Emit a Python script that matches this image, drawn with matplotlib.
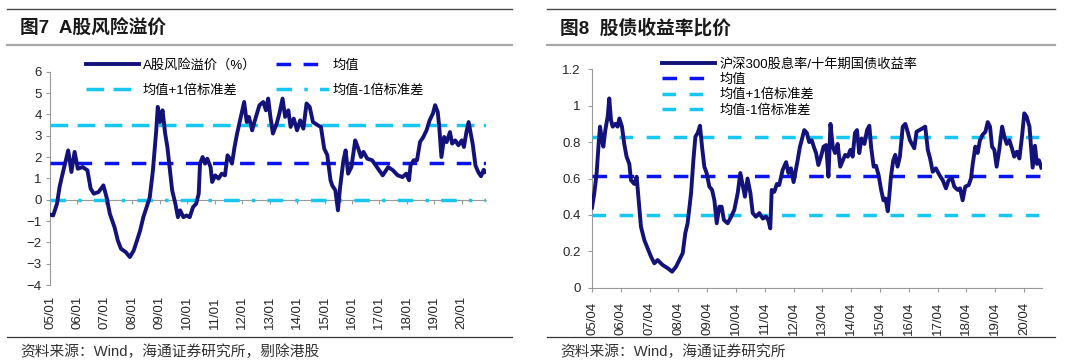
import matplotlib.pyplot as plt
from matplotlib.lines import Line2D
import numpy as np

plt.rcParams['font.family'] = ['Liberation Sans', 'Noto Sans CJK SC', 'DejaVu Sans']

# ---- data ----
# fig 7: A-share risk premium (%), x in years since 2005-01
risk_t = [0.0, 0.115, 0.255, 0.348, 0.43, 0.547, 0.663, 0.78, 0.896, 1.013, 1.188, 1.363,
          1.48, 1.596, 1.77, 1.945, 2.06, 2.18, 2.35, 2.47, 2.586, 2.76, 2.91, 3.05,
          3.17, 3.285, 3.40, 3.52, 3.635, 3.75, 3.87, 3.926, 4.008, 4.10, 4.195, 4.276,
          4.358, 4.45, 4.567, 4.66, 4.74, 4.86, 4.976, 5.09, 5.21, 5.325, 5.418, 5.465,
          5.56, 5.65, 5.73, 5.85, 5.907, 6.02, 6.14, 6.257, 6.374, 6.467, 6.55, 6.63,
          6.723, 6.816, 6.898, 6.98, 7.073, 7.166, 7.248, 7.365, 7.447, 7.54, 7.63, 7.77,
          7.866, 7.948, 8.03, 8.12, 8.26, 8.356, 8.473, 8.566, 8.683, 8.765, 8.88, 9.0,
          9.114, 9.23, 9.346, 9.46, 9.58, 9.754, 9.87, 9.99, 10.1, 10.22, 10.28, 10.395,
          10.49, 10.57, 10.69, 10.77, 10.86, 10.98, 11.118, 11.21, 11.33, 11.42, 11.56,
          11.735, 11.91, 12.12, 12.32, 12.49, 12.67, 12.84, 12.98, 13.08, 13.135, 13.25,
          13.37, 13.48, 13.6, 13.716, 13.83, 13.95, 14.03, 14.125, 14.18, 14.26, 14.36,
          14.45, 14.57, 14.65, 14.76, 14.88, 15.0, 15.08, 15.17, 15.25, 15.4, 15.5, 15.6,
          15.7, 15.8, 15.85]
risk_v = [-0.70, -0.74, -0.19, 0.59, 1.06, 1.69, 2.31, 1.30, 2.24, 1.45, 1.53, 1.38,
          0.52, 0.28, 0.36, 0.67, 0.12, -0.66, -1.29, -1.91, -2.30, -2.46, -2.69, -2.38,
          -1.91, -1.44, -0.82, -0.35, 0.12, 1.38, 3.25, 4.35, 3.64, 4.19, 3.10, 2.47,
          1.53, 0.44, -0.19, -0.82, -0.50, -0.82, -0.74, -0.82, -0.35, -0.19, 0.28, 1.69,
          2.00, 1.69, 1.92, 1.53, 0.83, 1.14, 0.99, 1.22, 1.14, 2.08, 1.92, 1.69,
          2.47, 3.10, 3.57, 4.04, 4.58, 3.64, 3.88, 3.25, 3.64, 4.04, 4.43, 4.58,
          4.19, 4.74, 3.88, 3.10, 3.57, 4.04, 4.74, 3.88, 4.19, 3.41, 3.80, 3.25,
          3.72, 3.33, 4.51, 4.35, 3.64, 3.49, 3.41, 2.39, 2.10, 0.91, 0.67, 0.44,
          -0.50, 0.59, 1.85, 2.31, 1.22, 1.53, 2.78, 2.47, 2.00, 2.24, 1.92,
          1.85, 1.53, 1.14, 1.53, 1.38, 1.14, 1.06, 1.22, 0.91, 1.61, 1.85,
          1.85, 2.70, 2.94, 3.25, 3.72, 4.04, 4.43, 4.11, 3.41, 2.00, 2.94,
          2.70, 3.17, 2.63, 2.78, 2.55, 2.78, 2.47, 3.17, 3.64, 2.60, 1.60, 1.30,
          1.10, 1.40, 1.30]
risk_mean = 1.74
risk_std = 1.75
risk_ticks = ["05/01", "06/01", "07/01", "08/01", "09/01", "10/01", "11/01", "12/01",
              "13/01", "14/01", "15/01", "16/01", "17/01", "18/01", "19/01", "20/01"]

# fig 8: CSI300 dividend yield / 10y bond yield, x in years since 2005-04
ratio_t = [0.0, 0.08, 0.162, 0.23, 0.278, 0.347, 0.394, 0.463, 0.544, 0.60, 0.66, 0.718,
           0.81, 0.89, 0.95, 1.04, 1.12, 1.2, 1.296, 1.354, 1.47, 1.55, 1.62, 1.70,
           1.82, 1.933, 2.05, 2.165, 2.28, 2.45, 2.63, 2.78, 2.917, 3.03, 3.15, 3.24,
           3.32, 3.44, 3.52, 3.59, 3.67, 3.75, 3.82, 3.9, 3.98, 4.075, 4.17, 4.25,
           4.33, 4.42, 4.5, 4.58, 4.71, 4.83, 4.94, 5.06, 5.15, 5.23, 5.31, 5.4,
           5.5, 5.58, 5.69, 5.81, 5.93, 6.04, 6.12, 6.19, 6.24, 6.33, 6.42, 6.5,
           6.62, 6.74, 6.82, 6.91, 7.0, 7.08, 7.14, 7.22, 7.28, 7.37, 7.46, 7.54,
           7.63, 7.7, 7.78, 7.86, 7.95, 8.04, 8.13, 8.21, 8.28, 8.36, 8.44, 8.53,
           8.62, 8.71, 8.79, 8.88, 8.97, 9.05, 9.13, 9.2, 9.28, 9.36, 9.46, 9.55,
           9.63, 9.69, 9.78, 9.86, 9.95, 10.04, 10.12, 10.19, 10.27, 10.32, 10.38, 10.46,
           10.53, 10.61, 10.69, 10.79, 10.88, 10.96, 11.04, 11.11, 11.19, 11.27, 11.37, 11.48,
           11.57, 11.66, 11.74, 11.83, 11.94, 12.06, 12.18, 12.29, 12.38, 12.5, 12.58, 12.7,
           12.78, 12.87, 12.96, 13.08, 13.16, 13.22, 13.31, 13.39, 13.47, 13.56, 13.66, 13.74,
           13.82, 13.89, 13.97, 14.05, 14.14, 14.24, 14.32, 14.40, 14.49, 14.58, 14.66, 14.75,
           14.84, 14.93, 15.01, 15.09, 15.19, 15.3, 15.38, 15.45, 15.52, 15.6]
ratio_v = [0.44, 0.52, 0.63, 0.79, 0.885, 0.81, 0.775, 0.866, 0.94, 1.04, 0.92, 0.885,
           0.90, 0.885, 0.93, 0.885, 0.79, 0.72, 0.68, 0.59, 0.57, 0.61, 0.48, 0.335,
           0.26, 0.216, 0.17, 0.134, 0.152, 0.125, 0.107, 0.088, 0.115, 0.152, 0.19, 0.30,
           0.354, 0.52, 0.70, 0.83, 0.85, 0.89, 0.775, 0.665, 0.63, 0.555, 0.537, 0.48,
           0.354, 0.445, 0.445, 0.372, 0.354, 0.39, 0.427, 0.52, 0.63, 0.564, 0.50, 0.60,
           0.52, 0.41, 0.39, 0.41, 0.38, 0.39, 0.372, 0.326, 0.537, 0.527, 0.57, 0.564,
           0.647, 0.69, 0.63, 0.656, 0.58, 0.647, 0.70, 0.775, 0.81, 0.866, 0.85, 0.80,
           0.81, 0.775, 0.74, 0.674, 0.72, 0.775, 0.784, 0.61, 0.90, 0.775, 0.74, 0.79,
           0.665, 0.70, 0.73, 0.72, 0.757, 0.72, 0.85, 0.866, 0.74, 0.82, 0.79, 0.866,
           0.89, 0.775, 0.665, 0.67, 0.62, 0.537, 0.48, 0.49, 0.42, 0.50, 0.61, 0.70,
           0.73, 0.665, 0.72, 0.885, 0.90, 0.857, 0.81, 0.79, 0.766, 0.857, 0.866, 0.876,
           0.885, 0.757, 0.71, 0.637, 0.656, 0.62, 0.59, 0.546, 0.59, 0.60, 0.555, 0.537,
           0.546, 0.48, 0.555, 0.564, 0.60, 0.68, 0.775, 0.74, 0.81, 0.84, 0.857, 0.91,
           0.885, 0.775, 0.757, 0.665, 0.757, 0.885, 0.83, 0.79, 0.81, 0.766, 0.72, 0.747,
           0.71, 0.83, 0.958, 0.94, 0.885, 0.66, 0.78, 0.68, 0.70, 0.66]
ratio_mean = 0.615
ratio_std = 0.215
ratio_ticks = ["05/04", "06/04", "07/04", "08/04", "09/04", "10/04", "11/04", "12/04",
               "13/04", "14/04", "15/04", "16/04", "17/04", "18/04", "19/04", "20/04"]

NAVY = '#12127a'
BLUE = '#0a14ee'
CYAN = '#18c6f2'
GRAY = '#9a9a9a'
TXT = '#262626'

W, H = 1080, 364
fig = plt.figure(figsize=(W / 100, H / 100), dpi=100)


def fx(px):
    return px / W


def fy(py):
    return 1 - py / H


def panel_frame(x0, x1, title, source):
    fig.add_artist(Line2D([fx(x0), fx(x1)], [fy(9.4), fy(9.4)], color='#4a4a4a', lw=1.0))
    fig.add_artist(Line2D([fx(x0), fx(x1)], [fy(44.5), fy(44.5)], color='#a8a8a8', lw=1.6))
    fig.add_artist(Line2D([fx(x0), fx(x1)], [fy(336.5), fy(336.5)], color='#333333', lw=0.9))
    fig.text(fx(x0 + 13), fy(28.3), title, fontsize=13.5, fontweight='bold',
             color='#1a1a1a', va='center', ha='left')
    fig.text(fx(x0 + 13), fy(352), source, fontsize=10.6, color='#333333',
             va='center', ha='left')


panel_frame(7, 512, "图7  A股风险溢价", "资料来源：Wind，海通证券研究所，剔除港股")
panel_frame(547, 1055, "图8  股债收益率比价", "资料来源：Wind，海通证券研究所")

# ---- left chart ----
L_X0, L_YR = 50.0, 27.45   # y-axis position and pixels per year
ax1 = fig.add_axes([fx(L_X0), fy(285), fx(L_X0 + 15.88 * L_YR) - fx(L_X0), fy(71.7) - fy(285)])
x1 = 2005.0 + np.array(risk_t)
ax1.plot(x1, risk_v, color=NAVY, lw=2.8, solid_joinstyle='round', label="A股风险溢价（%）", zorder=5)
ax1.axhline(risk_mean + risk_std, color=CYAN, lw=2.5, dashes=(5.1, 2.7), label="均值+1倍标准差", zorder=3)
ax1.axhline(risk_mean, color=BLUE, lw=2.5, dashes=(4.2, 3.6), label="均值", zorder=3)
ax1.axhline(risk_mean - risk_std, color=CYAN, lw=2.5, dashes=(4.5, 3.5, 1.0, 3.5),
            label="均值-1倍标准差", zorder=4)
ax1.set_xlim(2005.0, 2005.0 + 15.88)
ax1.set_ylim(-4, 6)
ax1.set_yticks(range(-4, 7))
ax1.set_xticks(2005 + np.arange(len(risk_ticks)))
ax1.set_xticklabels(risk_ticks, rotation=90, fontsize=9.5, color=TXT)
ax1.tick_params(axis='x', length=0, pad=8)
ax1.tick_params(axis='y', direction='out', length=3, color=GRAY, labelsize=9.5, labelcolor=TXT, pad=3)
for s in ['top', 'right', 'bottom']:
    ax1.spines[s].set_visible(False)
ax1.spines['left'].set_color(GRAY)
sec = ax1.secondary_xaxis(0, transform=ax1.transData)
sec.set_xticks(2005 + np.arange(len(risk_ticks)), labels=[])
sec.tick_params(axis='x', direction='out', length=3, color=GRAY)
sec.spines['bottom'].set_color(GRAY)
sec.spines['bottom'].set_linewidth(0.8)
sec.set_zorder(1)
ax1.legend(loc='upper left', bbox_to_anchor=(fx(86), fy(59)), bbox_transform=fig.transFigure,
           ncol=2, frameon=False, fontsize=9.5, handlelength=4.0, handletextpad=0.3,
           columnspacing=1.5, labelspacing=0.95, borderpad=0, borderaxespad=0)

# ---- right chart ----
ax2 = fig.add_axes([fx(592), fy(287.7), fx(1042) - fx(592), fy(69.3) - fy(287.7)])
x2 = 2005.25 + np.array(ratio_t)
ax2.plot(x2, ratio_v, color=NAVY, lw=2.8, solid_joinstyle='round', label="沪深300股息率/十年期国债收益率", zorder=5)
ax2.axhline(ratio_mean, color=BLUE, lw=2.5, dashes=(4.2, 3.6), label="均值", zorder=3)
ax2.axhline(ratio_mean + ratio_std, color=CYAN, lw=2.5, dashes=(3.9, 3.9), label="均值+1倍标准差", zorder=3)
ax2.axhline(ratio_mean - ratio_std, color=CYAN, lw=2.5, dashes=(3.9, 3.9), label="均值-1倍标准差", zorder=3)
ax2.set_xlim(2005.25, 2005.25 + (1042 - 592) / 28.8)
ax2.set_ylim(0, 1.2)
ax2.set_yticks([0, 0.2, 0.4, 0.6, 0.8, 1.0, 1.2])
ax2.set_yticklabels(["0", "0.2", "0.4", "0.6", "0.8", "1", "1.2"])
ax2.set_xticks(2005.25 + np.arange(len(ratio_ticks)))
ax2.set_xticklabels(ratio_ticks, rotation=90, fontsize=9.5, color=TXT)
ax2.tick_params(axis='x', direction='out', length=3, color=GRAY, pad=7)
ax2.tick_params(axis='y', direction='out', length=3, color=GRAY, labelsize=9.5, labelcolor=TXT, pad=5)
for s in ['top', 'right']:
    ax2.spines[s].set_visible(False)
ax2.spines['left'].set_color(GRAY)
ax2.spines['bottom'].set_color(GRAY)
ax2.legend(loc='upper left', bbox_to_anchor=(fx(662), fy(58)), bbox_transform=fig.transFigure,
           ncol=1, frameon=False, fontsize=9.5, handlelength=4.0, handletextpad=0.35,
           labelspacing=0.22, borderpad=0, borderaxespad=0)

fig.savefig("out.png", dpi=100)
